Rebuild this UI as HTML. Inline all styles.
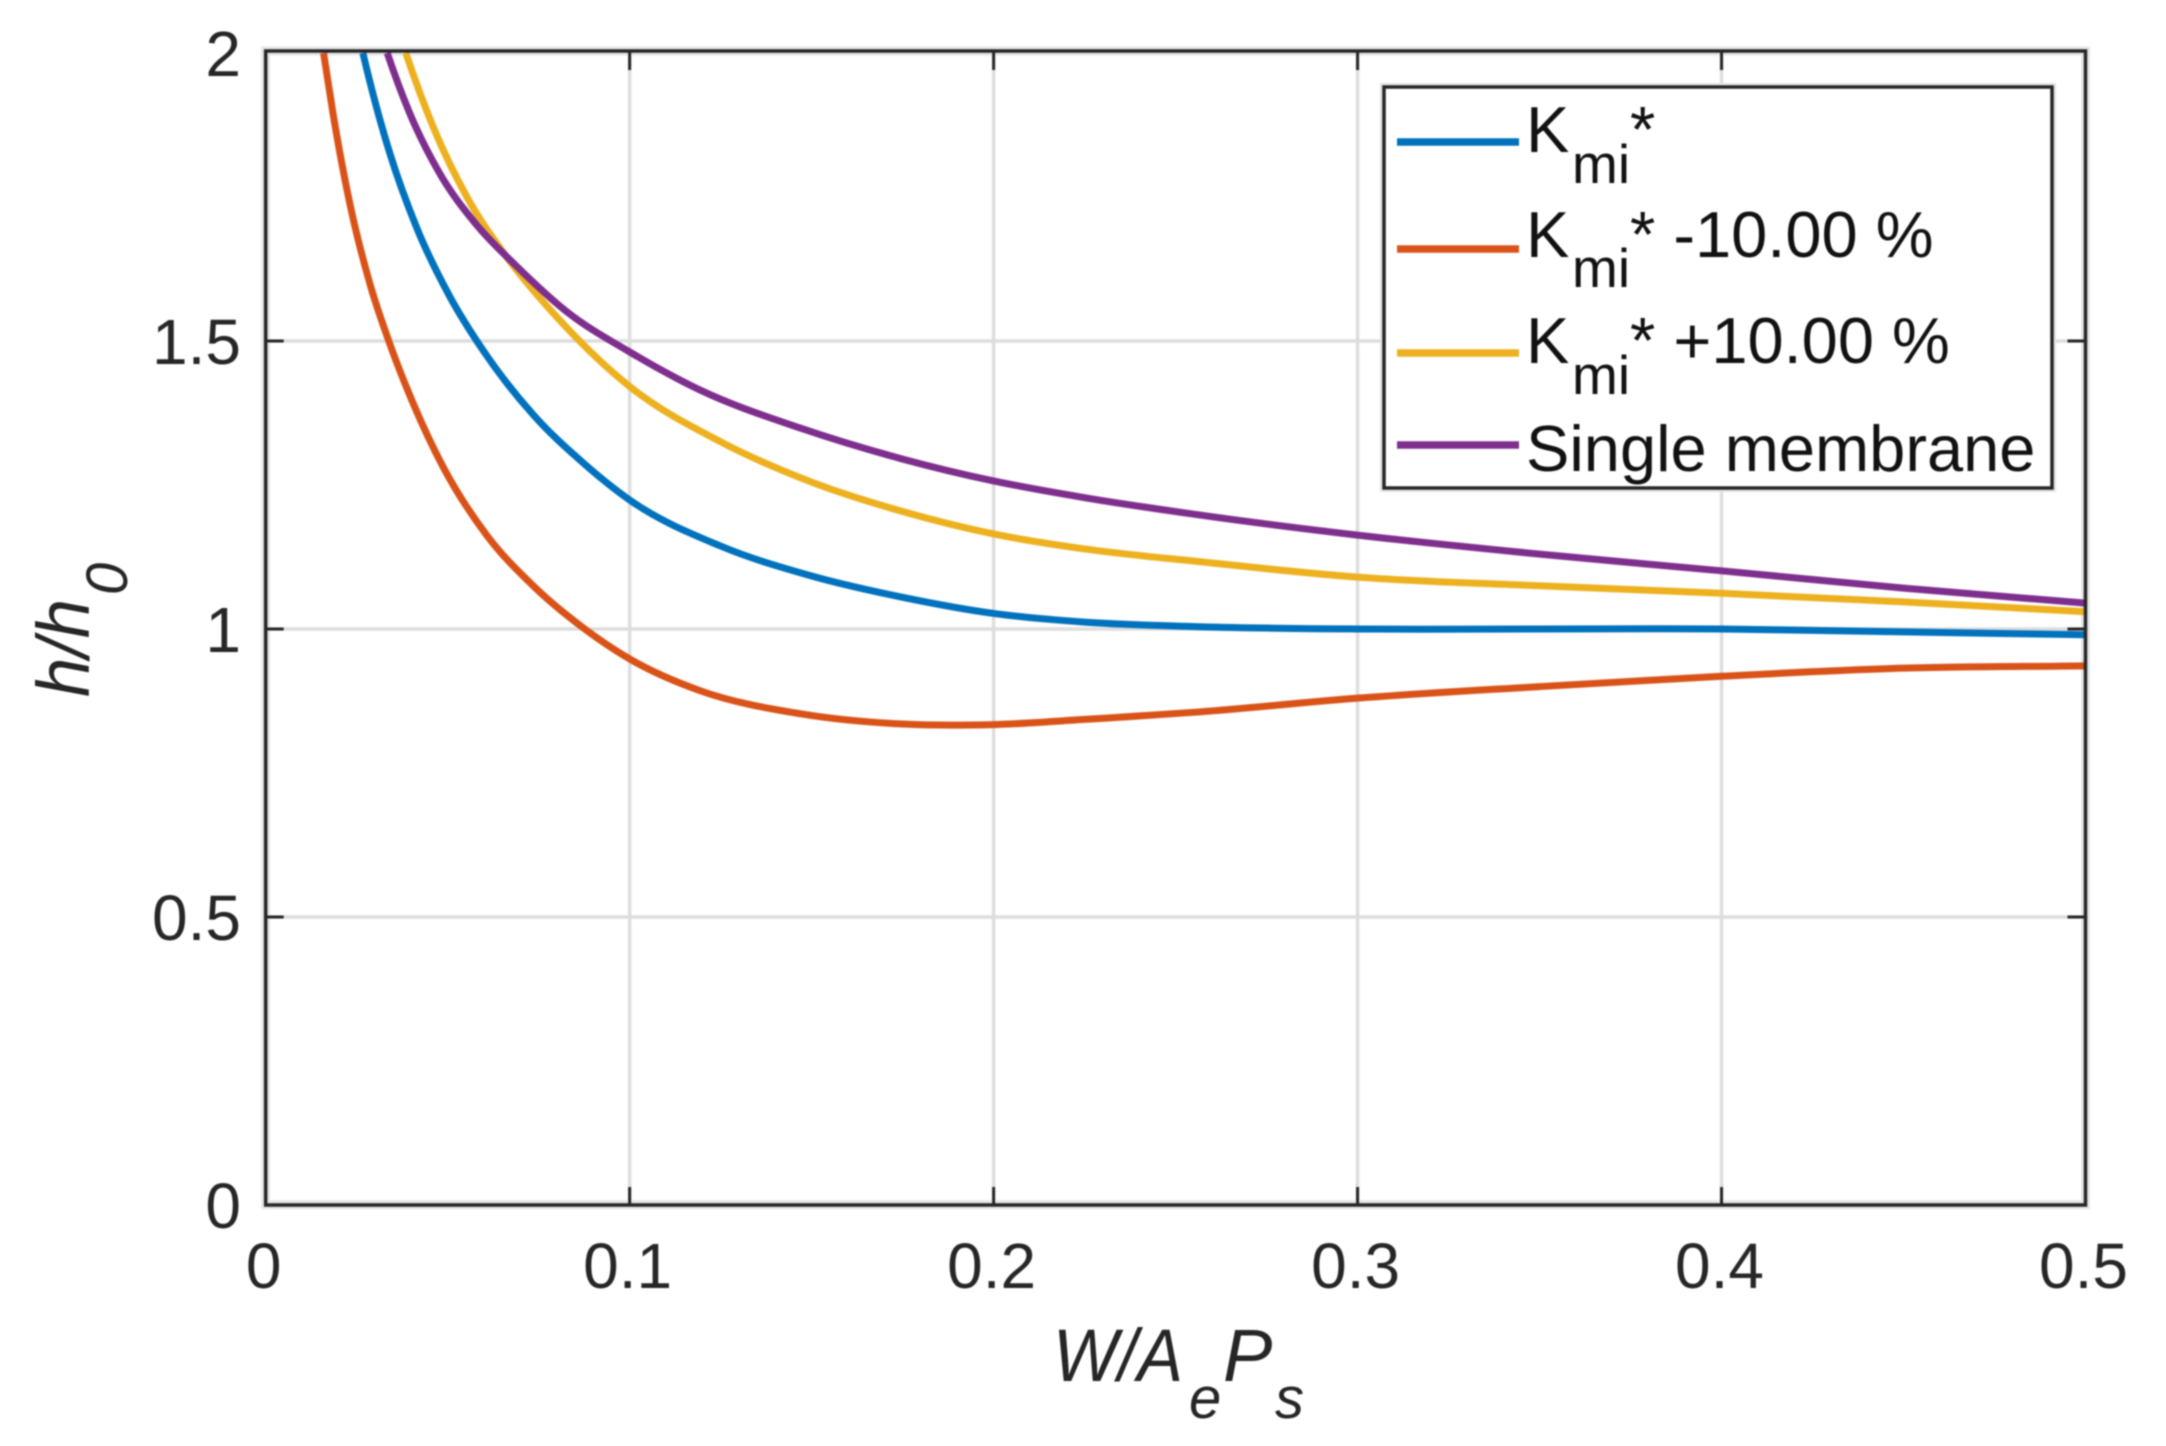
<!DOCTYPE html>
<html lang="en">
<head>
<meta charset="utf-8">
<title>h/h0 versus W/AePs</title>
<style>
html,body{margin:0;padding:0;background:#fff;}
svg{display:block;filter:blur(0.7px);}
text{font-family:"Liberation Sans",Arial,sans-serif;fill:#262626;}
.tick{font-size:64px;}
.label{font-size:74px;font-style:italic;}
.sub{font-size:58px;font-style:italic;}
.leg{font-size:65px;fill:#111;}
.legsub{font-size:55px;fill:#111;}
</style>
</head>
<body>
<svg id="chart" width="2166" height="1446" viewBox="0 0 2166 1446" xmlns="http://www.w3.org/2000/svg">
  <rect x="0" y="0" width="2166" height="1446" fill="#ffffff"/>
  <defs>
    <clipPath id="plot-clip"><rect x="266" y="51" width="1820" height="1154"/></clipPath>
  </defs>
  <rect x="265.7" y="51" width="1819.8" height="1153.7" fill="none" stroke="#e6e6e6" stroke-width="9"/>
  <g id="grid"></g>
  <g id="curves" clip-path="url(#plot-clip)"></g>
  <g id="axes"></g>

  <text class="label" x="1053" y="1381" textLength="130" lengthAdjust="spacingAndGlyphs">W/A</text>
  <text class="sub" x="1189" y="1418">e</text>
  <text class="label" x="1223" y="1381">P</text>
  <text class="sub" x="1275" y="1418">s</text>

  <g transform="translate(89,697) rotate(-90)">
    <text class="label" x="0" y="0" textLength="98" lengthAdjust="spacingAndGlyphs">h/h</text>
    <text class="sub" x="102" y="38">0</text>
  </g>

  <g>
    <rect x="1384" y="87" width="668" height="401" fill="none" stroke="#e6e6e6" stroke-width="8"/>
    <rect x="1384" y="87" width="668" height="401" fill="#ffffff" stroke="#262626" stroke-width="3.5"/>

    <line x1="1397" x2="1519" y1="142" y2="142" stroke="#0072BD" stroke-width="7.5"/>
    <text class="leg" x="1526" y="152">K</text>
    <text class="legsub" x="1572" y="183">mi</text>
    <text class="leg" x="1630" y="152">*</text>

    <line x1="1397" x2="1519" y1="249" y2="249" stroke="#D95319" stroke-width="7.5"/>
    <text class="leg" x="1526" y="257">K</text>
    <text class="legsub" x="1572" y="287">mi</text>
    <text class="leg" x="1630" y="257">* -10.00 %</text>

    <line x1="1397" x2="1519" y1="353" y2="353" stroke="#EDB120" stroke-width="7.5"/>
    <text class="leg" x="1526" y="363">K</text>
    <text class="legsub" x="1572" y="394">mi</text>
    <text class="leg" x="1630" y="363">* +10.00 %</text>

    <line x1="1397" x2="1519" y1="445" y2="445" stroke="#7E2F8E" stroke-width="7.5"/>
    <text class="leg" x="1526" y="471">Single membrane</text>
  </g>
</svg>
<script>
var xTicks = [0, 0.1, 0.2, 0.3, 0.4, 0.5];
var xTickLabels = ['0', '0.1', '0.2', '0.3', '0.4', '0.5'];
var yTicks = [0, 0.5, 1, 1.5, 2];
var yTickLabels = ['0', '0.5', '1', '1.5', '2'];

var kmiX = [0.0267, 0.0304, 0.0341, 0.0414, 0.0506, 0.0597, 0.0735, 0.0873, 0.1, 0.125, 0.15, 0.175, 0.2, 0.225, 0.2565, 0.3, 0.35, 0.4, 0.45, 0.5];
var kmiY = [2, 1.907, 1.826, 1.698, 1.577, 1.484, 1.372, 1.288, 1.224, 1.144, 1.092, 1.055, 1.027, 1.012, 1.004, 1, 1, 1, 0.995, 0.99];

var kmiMinusX = [0.0159, 0.0185, 0.0231, 0.0286, 0.0341, 0.0405, 0.0487, 0.0607, 0.0735, 0.0881, 0.1, 0.1193, 0.1468, 0.175, 0.2, 0.225, 0.2565, 0.3, 0.35, 0.4, 0.45, 0.5];
var kmiMinusY = [2, 1.895, 1.739, 1.6, 1.495, 1.392, 1.282, 1.163, 1.075, 0.998, 0.948, 0.893, 0.853, 0.835, 0.834, 0.843, 0.856, 0.88, 0.9, 0.918, 0.932, 0.936];

var kmiPlusX = [0.0385, 0.046, 0.0552, 0.0662, 0.0808, 0.1, 0.125, 0.15, 0.175, 0.2, 0.225, 0.2565, 0.3, 0.35, 0.4, 0.45, 0.5];
var kmiPlusY = [2, 1.872, 1.751, 1.646, 1.536, 1.421, 1.325, 1.255, 1.204, 1.165, 1.139, 1.117, 1.09, 1.075, 1.062, 1.047, 1.03];

var singleX = [0.0334, 0.0396, 0.0478, 0.0579, 0.0689, 0.0827, 0.1, 0.1193, 0.1468, 0.175, 0.2, 0.225, 0.2565, 0.3, 0.35, 0.4, 0.45, 0.5];
var singleY = [2, 1.895, 1.791, 1.702, 1.63, 1.551, 1.481, 1.415, 1.349, 1.295, 1.257, 1.228, 1.198, 1.163, 1.13, 1.101, 1.071, 1.045];

var NS = 'http://www.w3.org/2000/svg';

function sx(v) { return 265.7 + v / 0.5 * 1819.8; }
function sy(v) { return 1205 - v / 2 * 1152; }

function smoothPath(xs, ys) {
  var px = xs.map(sx), py = ys.map(sy), n = px.length, i;
  var d = [], w = [], m = [];
  for (i = 0; i < n - 1; i++) {
    w.push(px[i + 1] - px[i]);
    d.push((py[i + 1] - py[i]) / w[i]);
  }
  m.push(d[0] + (d[0] - d[1]) * w[0] / (w[0] + w[1]));
  for (i = 1; i < n - 1; i++) {
    m.push((w[i] * d[i - 1] + w[i - 1] * d[i]) / (w[i - 1] + w[i]));
  }
  m.push(d[n - 2]);
  var path = 'M' + px[0].toFixed(2) + ' ' + py[0].toFixed(2);
  for (i = 0; i < n - 1; i++) {
    var h = w[i] / 3;
    path += ' C' + (px[i] + h).toFixed(2) + ' ' + (py[i] + m[i] * h).toFixed(2) +
      ' ' + (px[i + 1] - h).toFixed(2) + ' ' + (py[i + 1] - m[i + 1] * h).toFixed(2) +
      ' ' + px[i + 1].toFixed(2) + ' ' + py[i + 1].toFixed(2);
  }
  return path;
}

function addLine(parent, x1, y1, x2, y2, color, width) {
  var el = document.createElementNS(NS, 'line');
  el.setAttribute('x1', x1);
  el.setAttribute('y1', y1);
  el.setAttribute('x2', x2);
  el.setAttribute('y2', y2);
  el.setAttribute('stroke', color);
  el.setAttribute('stroke-width', width);
  parent.appendChild(el);
  return el;
}

var gridG = document.getElementById('grid');
var axesG = document.getElementById('axes');
var curvesG = document.getElementById('curves');
var frameTop = 51;

xTicks.forEach(function (t, i) {
  if (t > 0 && t < 0.5) {
    var g = addLine(gridG, sx(t), sy(0), sx(t), frameTop, '#dddddd', 3.5);
    
    
    var t1 = addLine(axesG, sx(t), sy(0), sx(t), sy(0) - 18, '#262626', 3);
    
    
    var t2 = addLine(axesG, sx(t), frameTop, sx(t), frameTop + 19, '#262626', 3);
    
    
  }
  var lb = document.createElementNS(NS, 'text');
  
  
  lb.setAttribute('class', 'tick');
  lb.setAttribute('x', sx(t) - 2);
  lb.setAttribute('y', 1288);
  lb.setAttribute('text-anchor', 'middle');
  lb.textContent = xTickLabels[i];
  axesG.appendChild(lb);
});

yTicks.forEach(function (t, i) {
  if (t > 0 && t < 2) {
    var g = addLine(gridG, sx(0), sy(t), sx(0.5), sy(t), '#dddddd', 3.5);
    
    
    var t1 = addLine(axesG, sx(0), sy(t), sx(0) + 18, sy(t), '#262626', 3);
    
    
    var t2 = addLine(axesG, sx(0.5), sy(t), sx(0.5) - 18, sy(t), '#262626', 3);
    
    
  }
  var lb = document.createElementNS(NS, 'text');
  
  
  lb.setAttribute('class', 'tick');
  lb.setAttribute('x', 241);
  lb.setAttribute('y', sy(t) + 23);
  lb.setAttribute('text-anchor', 'end');
  lb.textContent = yTickLabels[i];
  axesG.appendChild(lb);
});

var frame = document.createElementNS(NS, 'rect');


frame.setAttribute('x', sx(0));
frame.setAttribute('y', frameTop);
frame.setAttribute('width', sx(0.5) - sx(0));
frame.setAttribute('height', sy(0) - frameTop);
frame.setAttribute('fill', 'none');
frame.setAttribute('stroke', '#262626');
frame.setAttribute('stroke-width', 3.5);
axesG.appendChild(frame);

function addCurve(xs, ys, color) {
  var p = document.createElementNS(NS, 'path');
  p.setAttribute('d', smoothPath(xs, ys));
  p.setAttribute('fill', 'none');
  p.setAttribute('stroke', color);
  p.setAttribute('stroke-width', 7);
  p.setAttribute('stroke-linejoin', 'round');
  curvesG.appendChild(p);
  return p;
}

var curveKmi = addCurve(kmiX, kmiY, '#0072BD');


var curveMinus = addCurve(kmiMinusX, kmiMinusY, '#D95319');


var curvePlus = addCurve(kmiPlusX, kmiPlusY, '#EDB120');


var curveSingle = addCurve(singleX, singleY, '#7E2F8E');


</script>
</body>
</html>
